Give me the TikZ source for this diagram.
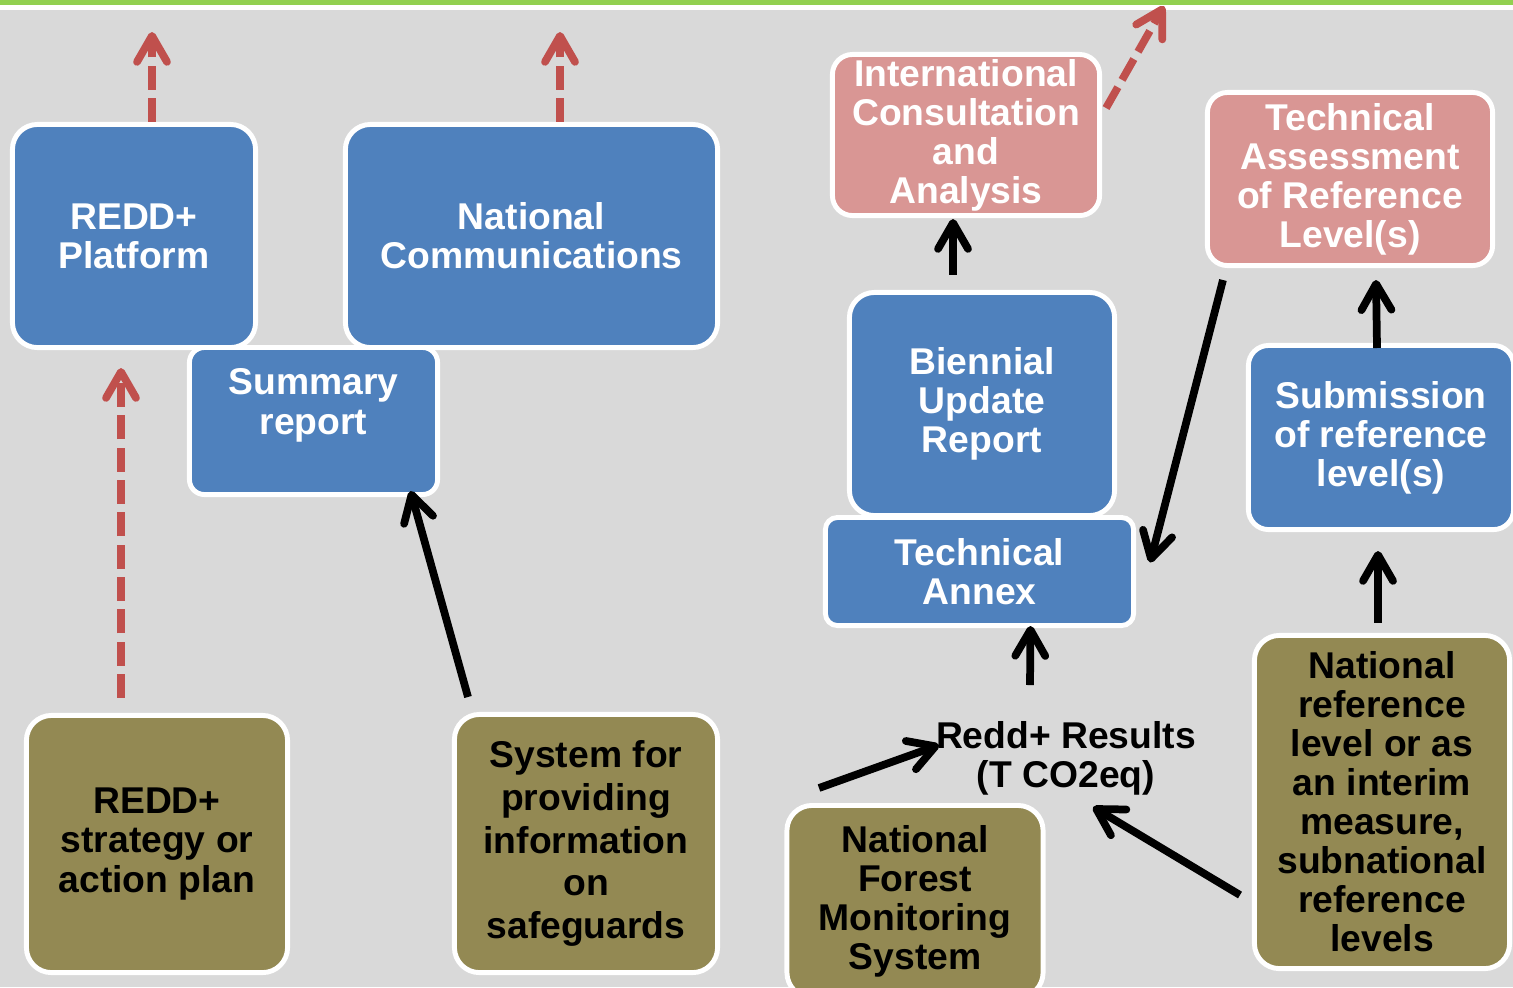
\documentclass[tikz,border=0pt]{standalone}
\usepackage{fontspec}
\setmainfont{Liberation Sans}
\usetikzlibrary{arrows.meta,calc}

\definecolor{bggray}{HTML}{D9D9D9}
\definecolor{boxblue}{HTML}{4F81BD}
\definecolor{boxpink}{HTML}{D99694}
\definecolor{boxolive}{HTML}{938953}
\definecolor{arrowred}{HTML}{C0504D}
\definecolor{topgreen}{HTML}{92D050}

\begin{document}
\begin{tikzpicture}[x=0.01cm, y=-0.01cm,
  box node/.style={draw=white, line width=1.4pt, rounded corners=0.25cm, align=center,
    inner sep=0pt, font=\bfseries\fontsize{10.6}{11.1}\selectfont},
  blue node/.style={box node, fill=boxblue, text=white},
  pink node/.style={box node, fill=boxpink, text=white},
  olive node/.style={box node, fill=boxolive, text=black},
  red arrow/.style={draw=arrowred, line width=2.2pt, dash pattern=on 6.8pt off 2.4pt,
    -{Straight Barb[round, length=2.6mm, width=3mm]}},
  black arrow/.style={draw=black, line width=2.2pt,
    -{Straight Barb[round, length=2.6mm, width=3mm]}}]
\useasboundingbox (0,0) rectangle (1513,987);
\fill[bggray] (0,0) rectangle (1513,987);
\fill[topgreen] (0,0) rectangle (1513,5);
\fill[white] (0,5) rectangle (1513,10);

% left side
\node[blue node, minimum width=2.43cm, minimum height=2.23cm] (plat) at (134,236) {REDD+\\Platform};
\node[blue node, minimum width=3.72cm, minimum height=2.23cm] (natc) at (531.5,236) {National\\Communications};
\node[blue node, minimum width=2.48cm, minimum height=1.47cm, rounded corners=0.15cm] (sum) at (313.5,421) {Summary\\report\\~};
\node[olive node, minimum width=2.61cm, minimum height=2.57cm] (strat) at (157,844) {REDD+\\strategy or\\action plan};
\node[olive node, minimum width=2.63cm, minimum height=2.58cm,
  font=\bfseries\fontsize{10.6}{12.2}\selectfont] (safe) at (586,843.5)
  {System for\\providing\\information\\on\\safeguards};

% right side
\node[pink node, minimum width=2.67cm, minimum height=1.61cm, rounded corners=0.2cm] (ica) at (966,135) {International\\Consultation\\and\\Analysis};
\node[pink node, minimum width=2.85cm, minimum height=1.73cm, rounded corners=0.2cm] (tarl) at (1350,179) {Technical\\Assessment\\of Reference\\Level(s)};
\node[blue node, minimum width=2.65cm, minimum height=2.23cm] (bur) at (982,404) {Biennial\\Update\\Report};
\node[blue node, minimum width=3.08cm, minimum height=1.08cm, rounded corners=0.12cm] (annex) at (979.5,571.5) {Technical\\Annex};
\node[blue node, minimum width=2.65cm, minimum height=1.84cm, rounded corners=0.2cm] (subm) at (1381,437.5) {Submission\\of reference\\level(s)};
\node[olive node, minimum width=2.56cm, minimum height=1.92cm] (nfms) at (915,901.5) {National\\Forest\\Monitoring\\System};
\node[olive node, minimum width=2.55cm, minimum height=3.33cm] (nrl) at (1382,802)
  {National\\reference\\level or as\\an interim\\measure,\\subnational\\reference\\levels};
\node[align=center, inner sep=0pt, font=\bfseries\fontsize{10.6}{11.1}\selectfont] (res) at (1066,758) {Redd+ Results\\(T CO2eq)};

\coordinate (platup) at (152,32);
\coordinate (natcup) at (560,32);
\coordinate (icaup) at (1164,6);

% connectors
\draw[red arrow] ($(plat.north)+(18,0)$) -- (platup);
\draw[red arrow] ($(natc.north)+(28.5,0)$) -- (natcup);
\draw[red arrow] ($(strat.north)+(-36,-15)$) -- ($(plat.south)+(-13,18)$);
\draw[red arrow] ($(ica.east)+(4,-27)$) -- (icaup);
\draw[black arrow] ($(safe.north)+(-118,-15)$) -- ($(sum.south)+(97,-6)$);
\draw[black arrow] ($(bur.north)+(-29,-15)$) -- ($(ica.south)+(-13,1)$);
\draw[black arrow] ($(tarl.south west)+(18,12)$) -- ($(annex.east)+(14,-9)$);
\draw[black arrow] ($(subm.north)+(-4,5)$) -- ($(tarl.south)+(26,12)$);
\draw[black arrow] ($(res)+(-36,-73)$) -- ($(annex.south)+(51,-2)$);
\draw[black arrow] ($(nfms.north)+(-96,-15)$) -- ($(res)+(-127,-13)$);
\draw[black arrow] ($(nrl.west)+(-12,93)$) -- ($(res)+(27,49)$);
\draw[black arrow] ($(nrl.north)+(-4,-10)$) -- ($(subm.south)+(-3,19)$);
\end{tikzpicture}
\end{document}
